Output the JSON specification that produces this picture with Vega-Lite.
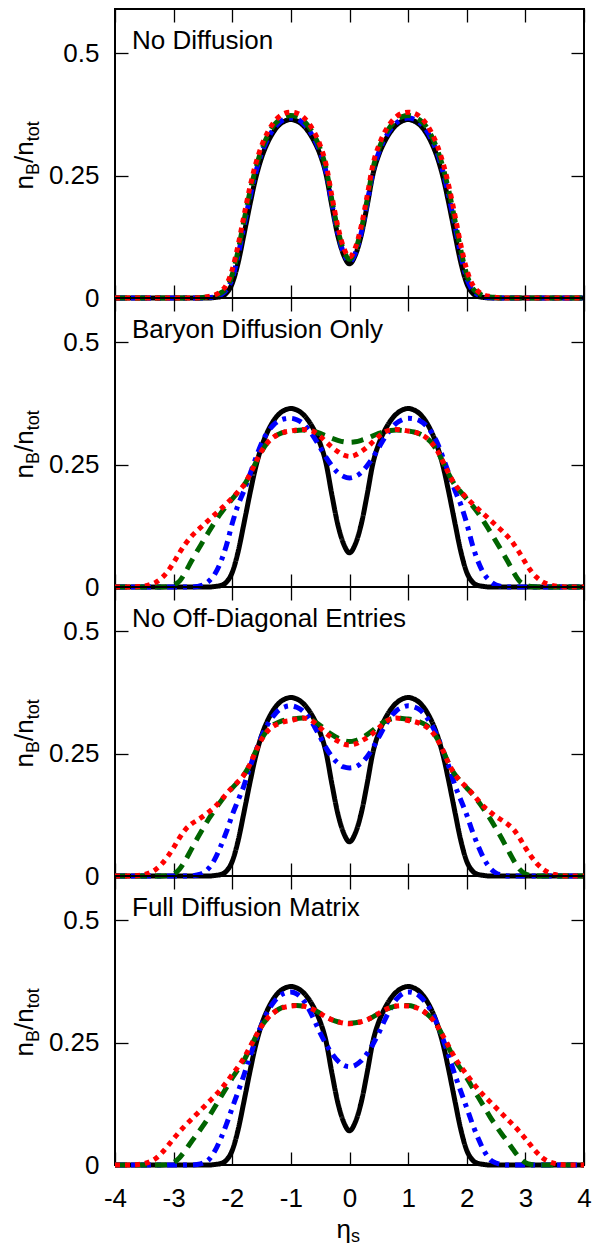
{
"$schema": "https://vega.github.io/schema/vega-lite/v6.json",
"autosize": {"type": "pad"},
"padding": {"left": 10, "top": 7, "right": 5, "bottom": 5},
"spacing": 0,
"bounds": "flush",
"datasets": {
"p1": [
{"x":-4,"k":0,"b":0,"g":0,"r":0},
{"x":-2.6,"k":0,"b":0,"g":0,"r":0},
{"x":-2.5,"k":0,"b":0,"g":0.001,"r":0.001},
{"x":-2.4,"k":0,"b":0.001,"g":0.002,"r":0.003},
{"x":-2.3,"k":0.001,"b":0.002,"g":0.004,"r":0.006},
{"x":-2.2,"k":0.003,"b":0.006,"g":0.01,"r":0.013},
{"x":-2.1,"k":0.01,"b":0.016,"g":0.02,"r":0.027},
{"x":-2,"k":0.03,"b":0.04,"g":0.048,"r":0.058},
{"x":-1.9,"k":0.072,"b":0.087,"g":0.097,"r":0.108},
{"x":-1.8,"k":0.13,"b":0.147,"g":0.158,"r":0.168},
{"x":-1.7,"k":0.19,"b":0.205,"g":0.216,"r":0.226},
{"x":-1.6,"k":0.245,"b":0.256,"g":0.265,"r":0.274},
{"x":-1.5,"k":0.287,"b":0.296,"g":0.303,"r":0.311},
{"x":-1.4,"k":0.317,"b":0.324,"g":0.331,"r":0.338},
{"x":-1.3,"k":0.339,"b":0.345,"g":0.352,"r":0.358},
{"x":-1.2,"k":0.354,"b":0.358,"g":0.364,"r":0.371},
{"x":-1.1,"k":0.362,"b":0.366,"g":0.371,"r":0.378},
{"x":-1,"k":0.365,"b":0.368,"g":0.373,"r":0.38},
{"x":-0.9,"k":0.362,"b":0.366,"g":0.371,"r":0.378},
{"x":-0.8,"k":0.354,"b":0.358,"g":0.364,"r":0.371},
{"x":-0.7,"k":0.34,"b":0.345,"g":0.351,"r":0.358},
{"x":-0.6,"k":0.32,"b":0.325,"g":0.332,"r":0.339},
{"x":-0.5,"k":0.293,"b":0.298,"g":0.305,"r":0.312},
{"x":-0.4,"k":0.253,"b":0.258,"g":0.265,"r":0.273},
{"x":-0.3,"k":0.188,"b":0.193,"g":0.2,"r":0.208},
{"x":-0.2,"k":0.128,"b":0.133,"g":0.14,"r":0.147},
{"x":-0.1,"k":0.088,"b":0.092,"g":0.098,"r":0.103},
{"x":0,"k":0.07,"b":0.074,"g":0.079,"r":0.084},
{"x":0.1,"k":0.088,"b":0.092,"g":0.098,"r":0.103},
{"x":0.2,"k":0.128,"b":0.133,"g":0.14,"r":0.147},
{"x":0.3,"k":0.188,"b":0.193,"g":0.2,"r":0.208},
{"x":0.4,"k":0.253,"b":0.258,"g":0.265,"r":0.273},
{"x":0.5,"k":0.293,"b":0.298,"g":0.305,"r":0.312},
{"x":0.6,"k":0.32,"b":0.325,"g":0.332,"r":0.339},
{"x":0.7,"k":0.34,"b":0.345,"g":0.351,"r":0.358},
{"x":0.8,"k":0.354,"b":0.358,"g":0.364,"r":0.371},
{"x":0.9,"k":0.362,"b":0.366,"g":0.371,"r":0.378},
{"x":1,"k":0.365,"b":0.368,"g":0.373,"r":0.38},
{"x":1.1,"k":0.362,"b":0.366,"g":0.371,"r":0.378},
{"x":1.2,"k":0.354,"b":0.358,"g":0.364,"r":0.371},
{"x":1.3,"k":0.339,"b":0.345,"g":0.352,"r":0.358},
{"x":1.4,"k":0.317,"b":0.324,"g":0.331,"r":0.338},
{"x":1.5,"k":0.287,"b":0.296,"g":0.303,"r":0.311},
{"x":1.6,"k":0.245,"b":0.256,"g":0.265,"r":0.274},
{"x":1.7,"k":0.19,"b":0.205,"g":0.216,"r":0.226},
{"x":1.8,"k":0.13,"b":0.147,"g":0.158,"r":0.168},
{"x":1.9,"k":0.072,"b":0.087,"g":0.097,"r":0.108},
{"x":2,"k":0.03,"b":0.04,"g":0.048,"r":0.058},
{"x":2.1,"k":0.01,"b":0.016,"g":0.02,"r":0.027},
{"x":2.2,"k":0.003,"b":0.006,"g":0.01,"r":0.013},
{"x":2.3,"k":0.001,"b":0.002,"g":0.004,"r":0.006},
{"x":2.4,"k":0,"b":0.001,"g":0.002,"r":0.003},
{"x":2.5,"k":0,"b":0,"g":0.001,"r":0.001},
{"x":2.6,"k":0,"b":0,"g":0,"r":0},
{"x":4,"k":0,"b":0,"g":0,"r":0}
],
"p2": [
{"x":-4,"k":0,"b":0,"g":0,"r":0},
{"x":-3.7,"k":0,"b":0,"g":0,"r":0},
{"x":-3.6,"k":0,"b":0,"g":0,"r":0.001},
{"x":-3.5,"k":0,"b":0,"g":0,"r":0.002},
{"x":-3.4,"k":0,"b":0,"g":0,"r":0.005},
{"x":-3.3,"k":0,"b":0,"g":0,"r":0.01},
{"x":-3.2,"k":0,"b":0,"g":0,"r":0.019},
{"x":-3.1,"k":0,"b":0,"g":0.001,"r":0.032},
{"x":-3,"k":0,"b":0,"g":0.004,"r":0.05},
{"x":-2.9,"k":0,"b":0,"g":0.012,"r":0.07},
{"x":-2.8,"k":0,"b":0,"g":0.03,"r":0.088},
{"x":-2.7,"k":0,"b":0,"g":0.052,"r":0.103},
{"x":-2.6,"k":0,"b":0.001,"g":0.073,"r":0.115},
{"x":-2.5,"k":0,"b":0.004,"g":0.093,"r":0.126},
{"x":-2.4,"k":0,"b":0.012,"g":0.113,"r":0.137},
{"x":-2.3,"k":0.001,"b":0.026,"g":0.132,"r":0.148},
{"x":-2.2,"k":0.003,"b":0.05,"g":0.15,"r":0.159},
{"x":-2.1,"k":0.01,"b":0.085,"g":0.166,"r":0.17},
{"x":-2,"k":0.03,"b":0.13,"g":0.18,"r":0.182},
{"x":-1.9,"k":0.072,"b":0.168,"g":0.194,"r":0.195},
{"x":-1.8,"k":0.13,"b":0.197,"g":0.208,"r":0.209},
{"x":-1.7,"k":0.19,"b":0.23,"g":0.229,"r":0.23},
{"x":-1.6,"k":0.245,"b":0.263,"g":0.254,"r":0.255},
{"x":-1.5,"k":0.287,"b":0.294,"g":0.277,"r":0.278},
{"x":-1.4,"k":0.317,"b":0.316,"g":0.295,"r":0.295},
{"x":-1.3,"k":0.339,"b":0.331,"g":0.306,"r":0.306},
{"x":-1.2,"k":0.354,"b":0.34,"g":0.313,"r":0.313},
{"x":-1.1,"k":0.362,"b":0.344,"g":0.317,"r":0.317},
{"x":-1,"k":0.365,"b":0.345,"g":0.319,"r":0.319},
{"x":-0.9,"k":0.362,"b":0.342,"g":0.32,"r":0.321},
{"x":-0.8,"k":0.354,"b":0.335,"g":0.321,"r":0.322},
{"x":-0.7,"k":0.34,"b":0.322,"g":0.32,"r":0.321},
{"x":-0.6,"k":0.32,"b":0.305,"g":0.318,"r":0.317},
{"x":-0.5,"k":0.293,"b":0.285,"g":0.314,"r":0.308},
{"x":-0.4,"k":0.253,"b":0.265,"g":0.309,"r":0.297},
{"x":-0.3,"k":0.188,"b":0.248,"g":0.304,"r":0.286},
{"x":-0.2,"k":0.128,"b":0.234,"g":0.3,"r":0.277},
{"x":-0.1,"k":0.088,"b":0.226,"g":0.297,"r":0.27},
{"x":0,"k":0.07,"b":0.223,"g":0.296,"r":0.267},
{"x":0.1,"k":0.088,"b":0.226,"g":0.297,"r":0.27},
{"x":0.2,"k":0.128,"b":0.234,"g":0.3,"r":0.277},
{"x":0.3,"k":0.188,"b":0.248,"g":0.304,"r":0.286},
{"x":0.4,"k":0.253,"b":0.265,"g":0.309,"r":0.297},
{"x":0.5,"k":0.293,"b":0.285,"g":0.314,"r":0.308},
{"x":0.6,"k":0.32,"b":0.305,"g":0.318,"r":0.317},
{"x":0.7,"k":0.34,"b":0.322,"g":0.32,"r":0.321},
{"x":0.8,"k":0.354,"b":0.335,"g":0.321,"r":0.322},
{"x":0.9,"k":0.362,"b":0.342,"g":0.32,"r":0.321},
{"x":1,"k":0.365,"b":0.345,"g":0.319,"r":0.319},
{"x":1.1,"k":0.362,"b":0.344,"g":0.317,"r":0.317},
{"x":1.2,"k":0.354,"b":0.34,"g":0.313,"r":0.313},
{"x":1.3,"k":0.339,"b":0.331,"g":0.306,"r":0.306},
{"x":1.4,"k":0.317,"b":0.316,"g":0.295,"r":0.295},
{"x":1.5,"k":0.287,"b":0.294,"g":0.277,"r":0.278},
{"x":1.6,"k":0.245,"b":0.263,"g":0.254,"r":0.255},
{"x":1.7,"k":0.19,"b":0.23,"g":0.229,"r":0.23},
{"x":1.8,"k":0.13,"b":0.197,"g":0.208,"r":0.209},
{"x":1.9,"k":0.072,"b":0.168,"g":0.194,"r":0.195},
{"x":2,"k":0.03,"b":0.13,"g":0.18,"r":0.182},
{"x":2.1,"k":0.01,"b":0.085,"g":0.166,"r":0.17},
{"x":2.2,"k":0.003,"b":0.05,"g":0.15,"r":0.159},
{"x":2.3,"k":0.001,"b":0.026,"g":0.132,"r":0.148},
{"x":2.4,"k":0,"b":0.012,"g":0.113,"r":0.137},
{"x":2.5,"k":0,"b":0.004,"g":0.093,"r":0.126},
{"x":2.6,"k":0,"b":0.001,"g":0.073,"r":0.115},
{"x":2.7,"k":0,"b":0,"g":0.052,"r":0.103},
{"x":2.8,"k":0,"b":0,"g":0.03,"r":0.088},
{"x":2.9,"k":0,"b":0,"g":0.012,"r":0.07},
{"x":3,"k":0,"b":0,"g":0.004,"r":0.05},
{"x":3.1,"k":0,"b":0,"g":0.001,"r":0.032},
{"x":3.2,"k":0,"b":0,"g":0,"r":0.019},
{"x":3.3,"k":0,"b":0,"g":0,"r":0.01},
{"x":3.4,"k":0,"b":0,"g":0,"r":0.005},
{"x":3.5,"k":0,"b":0,"g":0,"r":0.002},
{"x":3.6,"k":0,"b":0,"g":0,"r":0.001},
{"x":3.7,"k":0,"b":0,"g":0,"r":0},
{"x":4,"k":0,"b":0,"g":0,"r":0}
],
"p3": [
{"x":-4,"k":0,"b":0,"g":0,"r":0},
{"x":-3.7,"k":0,"b":0,"g":0,"r":0},
{"x":-3.6,"k":0,"b":0,"g":0,"r":0.001},
{"x":-3.5,"k":0,"b":0,"g":0,"r":0.003},
{"x":-3.4,"k":0,"b":0,"g":0,"r":0.007},
{"x":-3.3,"k":0,"b":0,"g":0,"r":0.014},
{"x":-3.2,"k":0,"b":0,"g":0,"r":0.025},
{"x":-3.1,"k":0,"b":0,"g":0.001,"r":0.04},
{"x":-3,"k":0,"b":0,"g":0.004,"r":0.058},
{"x":-2.9,"k":0,"b":0,"g":0.014,"r":0.078},
{"x":-2.8,"k":0,"b":0,"g":0.032,"r":0.095},
{"x":-2.7,"k":0,"b":0,"g":0.054,"r":0.106},
{"x":-2.6,"k":0,"b":0.002,"g":0.076,"r":0.114},
{"x":-2.5,"k":0,"b":0.006,"g":0.097,"r":0.122},
{"x":-2.4,"k":0,"b":0.016,"g":0.117,"r":0.131},
{"x":-2.3,"k":0.001,"b":0.034,"g":0.135,"r":0.141},
{"x":-2.2,"k":0.003,"b":0.06,"g":0.152,"r":0.154},
{"x":-2.1,"k":0.01,"b":0.09,"g":0.167,"r":0.168},
{"x":-2,"k":0.03,"b":0.125,"g":0.18,"r":0.181},
{"x":-1.9,"k":0.072,"b":0.155,"g":0.193,"r":0.193},
{"x":-1.8,"k":0.13,"b":0.185,"g":0.207,"r":0.207},
{"x":-1.7,"k":0.19,"b":0.222,"g":0.228,"r":0.228},
{"x":-1.6,"k":0.245,"b":0.255,"g":0.255,"r":0.255},
{"x":-1.5,"k":0.287,"b":0.285,"g":0.28,"r":0.279},
{"x":-1.4,"k":0.317,"b":0.309,"g":0.298,"r":0.296},
{"x":-1.3,"k":0.339,"b":0.327,"g":0.309,"r":0.306},
{"x":-1.2,"k":0.354,"b":0.34,"g":0.315,"r":0.312},
{"x":-1.1,"k":0.362,"b":0.346,"g":0.319,"r":0.316},
{"x":-1,"k":0.365,"b":0.348,"g":0.321,"r":0.318},
{"x":-0.9,"k":0.362,"b":0.345,"g":0.322,"r":0.321},
{"x":-0.8,"k":0.354,"b":0.338,"g":0.323,"r":0.323},
{"x":-0.7,"k":0.34,"b":0.325,"g":0.321,"r":0.321},
{"x":-0.6,"k":0.32,"b":0.306,"g":0.316,"r":0.314},
{"x":-0.5,"k":0.293,"b":0.284,"g":0.308,"r":0.303},
{"x":-0.4,"k":0.253,"b":0.262,"g":0.298,"r":0.292},
{"x":-0.3,"k":0.188,"b":0.244,"g":0.289,"r":0.283},
{"x":-0.2,"k":0.128,"b":0.231,"g":0.282,"r":0.276},
{"x":-0.1,"k":0.088,"b":0.223,"g":0.277,"r":0.27},
{"x":0,"k":0.07,"b":0.221,"g":0.275,"r":0.268},
{"x":0.1,"k":0.088,"b":0.223,"g":0.277,"r":0.27},
{"x":0.2,"k":0.128,"b":0.231,"g":0.282,"r":0.276},
{"x":0.3,"k":0.188,"b":0.244,"g":0.289,"r":0.283},
{"x":0.4,"k":0.253,"b":0.262,"g":0.298,"r":0.292},
{"x":0.5,"k":0.293,"b":0.284,"g":0.308,"r":0.303},
{"x":0.6,"k":0.32,"b":0.306,"g":0.316,"r":0.314},
{"x":0.7,"k":0.34,"b":0.325,"g":0.321,"r":0.321},
{"x":0.8,"k":0.354,"b":0.338,"g":0.323,"r":0.323},
{"x":0.9,"k":0.362,"b":0.345,"g":0.322,"r":0.321},
{"x":1,"k":0.365,"b":0.348,"g":0.321,"r":0.318},
{"x":1.1,"k":0.362,"b":0.346,"g":0.319,"r":0.316},
{"x":1.2,"k":0.354,"b":0.34,"g":0.315,"r":0.312},
{"x":1.3,"k":0.339,"b":0.327,"g":0.309,"r":0.306},
{"x":1.4,"k":0.317,"b":0.309,"g":0.298,"r":0.296},
{"x":1.5,"k":0.287,"b":0.285,"g":0.28,"r":0.279},
{"x":1.6,"k":0.245,"b":0.255,"g":0.255,"r":0.255},
{"x":1.7,"k":0.19,"b":0.222,"g":0.228,"r":0.228},
{"x":1.8,"k":0.13,"b":0.185,"g":0.207,"r":0.207},
{"x":1.9,"k":0.072,"b":0.155,"g":0.193,"r":0.193},
{"x":2,"k":0.03,"b":0.125,"g":0.18,"r":0.181},
{"x":2.1,"k":0.01,"b":0.09,"g":0.167,"r":0.168},
{"x":2.2,"k":0.003,"b":0.06,"g":0.152,"r":0.154},
{"x":2.3,"k":0.001,"b":0.034,"g":0.135,"r":0.141},
{"x":2.4,"k":0,"b":0.016,"g":0.117,"r":0.131},
{"x":2.5,"k":0,"b":0.006,"g":0.097,"r":0.122},
{"x":2.6,"k":0,"b":0.002,"g":0.076,"r":0.114},
{"x":2.7,"k":0,"b":0,"g":0.054,"r":0.106},
{"x":2.8,"k":0,"b":0,"g":0.032,"r":0.095},
{"x":2.9,"k":0,"b":0,"g":0.014,"r":0.078},
{"x":3,"k":0,"b":0,"g":0.004,"r":0.058},
{"x":3.1,"k":0,"b":0,"g":0.001,"r":0.04},
{"x":3.2,"k":0,"b":0,"g":0,"r":0.025},
{"x":3.3,"k":0,"b":0,"g":0,"r":0.014},
{"x":3.4,"k":0,"b":0,"g":0,"r":0.007},
{"x":3.5,"k":0,"b":0,"g":0,"r":0.003},
{"x":3.6,"k":0,"b":0,"g":0,"r":0.001},
{"x":3.7,"k":0,"b":0,"g":0,"r":0},
{"x":4,"k":0,"b":0,"g":0,"r":0}
],
"p4": [
{"x":-4,"k":0,"b":0,"g":0,"r":0},
{"x":-3.7,"k":0,"b":0,"g":0,"r":0},
{"x":-3.6,"k":0,"b":0,"g":0,"r":0.001},
{"x":-3.5,"k":0,"b":0,"g":0,"r":0.003},
{"x":-3.4,"k":0,"b":0,"g":0,"r":0.007},
{"x":-3.3,"k":0,"b":0,"g":0,"r":0.014},
{"x":-3.2,"k":0,"b":0,"g":0,"r":0.025},
{"x":-3.1,"k":0,"b":0,"g":0.001,"r":0.039},
{"x":-3,"k":0,"b":0,"g":0.005,"r":0.054},
{"x":-2.9,"k":0,"b":0,"g":0.015,"r":0.068},
{"x":-2.8,"k":0,"b":0,"g":0.03,"r":0.081},
{"x":-2.7,"k":0,"b":0,"g":0.047,"r":0.093},
{"x":-2.6,"k":0,"b":0.001,"g":0.063,"r":0.105},
{"x":-2.5,"k":0,"b":0.004,"g":0.08,"r":0.117},
{"x":-2.4,"k":0,"b":0.011,"g":0.098,"r":0.129},
{"x":-2.3,"k":0.001,"b":0.028,"g":0.118,"r":0.141},
{"x":-2.2,"k":0.003,"b":0.053,"g":0.138,"r":0.154},
{"x":-2.1,"k":0.01,"b":0.083,"g":0.158,"r":0.169},
{"x":-2,"k":0.03,"b":0.117,"g":0.178,"r":0.185},
{"x":-1.9,"k":0.072,"b":0.15,"g":0.196,"r":0.201},
{"x":-1.8,"k":0.13,"b":0.184,"g":0.214,"r":0.219},
{"x":-1.7,"k":0.19,"b":0.221,"g":0.238,"r":0.241},
{"x":-1.6,"k":0.245,"b":0.256,"g":0.262,"r":0.263},
{"x":-1.5,"k":0.287,"b":0.287,"g":0.284,"r":0.284},
{"x":-1.4,"k":0.317,"b":0.313,"g":0.3,"r":0.3},
{"x":-1.3,"k":0.339,"b":0.332,"g":0.311,"r":0.311},
{"x":-1.2,"k":0.354,"b":0.345,"g":0.319,"r":0.319},
{"x":-1.1,"k":0.362,"b":0.352,"g":0.324,"r":0.323},
{"x":-1,"k":0.365,"b":0.354,"g":0.326,"r":0.325},
{"x":-0.9,"k":0.362,"b":0.35,"g":0.326,"r":0.326},
{"x":-0.8,"k":0.354,"b":0.339,"g":0.325,"r":0.325},
{"x":-0.7,"k":0.34,"b":0.32,"g":0.322,"r":0.322},
{"x":-0.6,"k":0.32,"b":0.296,"g":0.317,"r":0.317},
{"x":-0.5,"k":0.293,"b":0.27,"g":0.31,"r":0.31},
{"x":-0.4,"k":0.253,"b":0.247,"g":0.303,"r":0.303},
{"x":-0.3,"k":0.188,"b":0.228,"g":0.297,"r":0.297},
{"x":-0.2,"k":0.128,"b":0.213,"g":0.293,"r":0.293},
{"x":-0.1,"k":0.088,"b":0.204,"g":0.291,"r":0.29},
{"x":0,"k":0.07,"b":0.201,"g":0.29,"r":0.289},
{"x":0.1,"k":0.088,"b":0.204,"g":0.291,"r":0.29},
{"x":0.2,"k":0.128,"b":0.213,"g":0.293,"r":0.293},
{"x":0.3,"k":0.188,"b":0.228,"g":0.297,"r":0.297},
{"x":0.4,"k":0.253,"b":0.247,"g":0.303,"r":0.303},
{"x":0.5,"k":0.293,"b":0.27,"g":0.31,"r":0.31},
{"x":0.6,"k":0.32,"b":0.296,"g":0.317,"r":0.317},
{"x":0.7,"k":0.34,"b":0.32,"g":0.322,"r":0.322},
{"x":0.8,"k":0.354,"b":0.339,"g":0.325,"r":0.325},
{"x":0.9,"k":0.362,"b":0.35,"g":0.326,"r":0.326},
{"x":1,"k":0.365,"b":0.354,"g":0.326,"r":0.325},
{"x":1.1,"k":0.362,"b":0.352,"g":0.324,"r":0.323},
{"x":1.2,"k":0.354,"b":0.345,"g":0.319,"r":0.319},
{"x":1.3,"k":0.339,"b":0.332,"g":0.311,"r":0.311},
{"x":1.4,"k":0.317,"b":0.313,"g":0.3,"r":0.3},
{"x":1.5,"k":0.287,"b":0.287,"g":0.284,"r":0.284},
{"x":1.6,"k":0.245,"b":0.256,"g":0.262,"r":0.263},
{"x":1.7,"k":0.19,"b":0.221,"g":0.238,"r":0.241},
{"x":1.8,"k":0.13,"b":0.184,"g":0.214,"r":0.219},
{"x":1.9,"k":0.072,"b":0.15,"g":0.196,"r":0.201},
{"x":2,"k":0.03,"b":0.117,"g":0.178,"r":0.185},
{"x":2.1,"k":0.01,"b":0.083,"g":0.158,"r":0.169},
{"x":2.2,"k":0.003,"b":0.053,"g":0.138,"r":0.154},
{"x":2.3,"k":0.001,"b":0.028,"g":0.118,"r":0.141},
{"x":2.4,"k":0,"b":0.011,"g":0.098,"r":0.129},
{"x":2.5,"k":0,"b":0.004,"g":0.08,"r":0.117},
{"x":2.6,"k":0,"b":0.001,"g":0.063,"r":0.105},
{"x":2.7,"k":0,"b":0,"g":0.047,"r":0.093},
{"x":2.8,"k":0,"b":0,"g":0.03,"r":0.081},
{"x":2.9,"k":0,"b":0,"g":0.015,"r":0.068},
{"x":3,"k":0,"b":0,"g":0.005,"r":0.054},
{"x":3.1,"k":0,"b":0,"g":0.001,"r":0.039},
{"x":3.2,"k":0,"b":0,"g":0,"r":0.025},
{"x":3.3,"k":0,"b":0,"g":0,"r":0.014},
{"x":3.4,"k":0,"b":0,"g":0,"r":0.007},
{"x":3.5,"k":0,"b":0,"g":0,"r":0.003},
{"x":3.6,"k":0,"b":0,"g":0,"r":0.001},
{"x":3.7,"k":0,"b":0,"g":0,"r":0},
{"x":4,"k":0,"b":0,"g":0,"r":0}
]
},
"vconcat": [
{
"width": 469, "height": 289,
"data": {"name": "p1"},
"transform": [{"fold": ["k","b","g","r"], "as": ["s","v"]}],
"title": {"text": "No Diffusion"},
"layer": [
{"mark": {"type": "line", "interpolate": "monotone", "strokeWidth": 5},
 "encoding": {
  "x": {"field": "x", "type": "quantitative", "scale": {"domain": [-4,4], "nice": false, "zero": false}, "axis": {"orient": "bottom", "values": [-4,-3,-2,-1,0,1,2,3,4], "labels": false, "title": null}},
  "y": {"field": "v", "type": "quantitative", "scale": {"domain": [0,0.591], "nice": false, "zero": false}, "axis": {"orient": "left", "values": [0,0.25,0.5], "labelPadding": 29, "labelAlign": "right", "labelBaseline": "middle", "labelExpr": "'' + datum.value", "title": "n", "titleFontSize": 26, "titleX": -82.5, "titleY": 180, "titleAngle": 270, "titleAlign": "left", "titleBaseline": "alphabetic"}},
  "color": {"field": "s", "type": "nominal", "scale": {"domain": ["k","b","g","r"], "range": ["#000000","#0000ff","#006400","#ff0000"]}, "legend": null},
  "strokeDash": {"field": "s", "type": "nominal", "scale": {"domain": ["k","b","g","r"], "range": [[1,0],[10,6,4,6],[12,8],[5,5]]}, "legend": null}
 }},
{"mark": {"type": "point", "opacity": 0},
 "encoding": {
  "x": {"field": "x", "type": "quantitative", "axis": {"orient": "top", "values": [-4,-3,-2,-1,0,1,2,3,4], "labels": false, "title": null}},
  "y": {"field": "v", "type": "quantitative", "axis": {"orient": "right", "values": [0,0.25,0.5], "labels": false, "title": null}}
 }},
{"mark": {"type": "point", "opacity": 0},
 "encoding": {
  "x": {"field": "x", "type": "quantitative", "axis": null},
  "y": {"field": "v", "type": "quantitative", "axis": {"orient": "left", "labels": false, "ticks": false, "title": "B", "titleFontSize": 18, "titleX": -76.5, "titleY": 165.5, "titleAngle": 270, "titleAlign": "left", "titleBaseline": "alphabetic"}}
 }},
{"mark": {"type": "point", "opacity": 0},
 "encoding": {
  "x": {"field": "x", "type": "quantitative", "axis": null},
  "y": {"field": "v", "type": "quantitative", "axis": {"orient": "left", "labels": false, "ticks": false, "title": "/n", "titleFontSize": 26, "titleX": -82.5, "titleY": 153.5, "titleAngle": 270, "titleAlign": "left", "titleBaseline": "alphabetic"}}
 }},
{"mark": {"type": "point", "opacity": 0},
 "encoding": {
  "x": {"field": "x", "type": "quantitative", "axis": null},
  "y": {"field": "v", "type": "quantitative", "axis": {"orient": "left", "labels": false, "ticks": false, "title": "tot", "titleFontSize": 18, "titleX": -76.5, "titleY": 131.8, "titleAngle": 270, "titleAlign": "left", "titleBaseline": "alphabetic"}}
 }}
],
"resolve": {"axis": {"x": "independent", "y": "independent"}}
},
{
"width": 469, "height": 289,
"data": {"name": "p2"},
"transform": [{"fold": ["k","b","g","r"], "as": ["s","v"]}],
"title": {"text": "Baryon Diffusion Only"},
"layer": [
{"mark": {"type": "line", "interpolate": "monotone", "strokeWidth": 5},
 "encoding": {
  "x": {"field": "x", "type": "quantitative", "scale": {"domain": [-4,4], "nice": false, "zero": false}, "axis": {"orient": "bottom", "values": [-4,-3,-2,-1,0,1,2,3,4], "labels": false, "title": null}},
  "y": {"field": "v", "type": "quantitative", "scale": {"domain": [0,0.591], "nice": false, "zero": false}, "axis": {"orient": "left", "values": [0,0.25,0.5], "labelPadding": 29, "labelAlign": "right", "labelBaseline": "middle", "labelExpr": "'' + datum.value", "title": "n", "titleFontSize": 26, "titleX": -82.5, "titleY": 180, "titleAngle": 270, "titleAlign": "left", "titleBaseline": "alphabetic"}},
  "color": {"field": "s", "type": "nominal", "scale": {"domain": ["k","b","g","r"], "range": ["#000000","#0000ff","#006400","#ff0000"]}, "legend": null},
  "strokeDash": {"field": "s", "type": "nominal", "scale": {"domain": ["k","b","g","r"], "range": [[1,0],[10,6,4,6],[12,8],[5,5]]}, "legend": null}
 }},
{"mark": {"type": "point", "opacity": 0},
 "encoding": {
  "x": {"field": "x", "type": "quantitative", "axis": {"orient": "top", "values": [-4,-3,-2,-1,0,1,2,3,4], "labels": false, "title": null}},
  "y": {"field": "v", "type": "quantitative", "axis": {"orient": "right", "values": [0,0.25,0.5], "labels": false, "title": null}}
 }},
{"mark": {"type": "point", "opacity": 0},
 "encoding": {
  "x": {"field": "x", "type": "quantitative", "axis": null},
  "y": {"field": "v", "type": "quantitative", "axis": {"orient": "left", "labels": false, "ticks": false, "title": "B", "titleFontSize": 18, "titleX": -76.5, "titleY": 165.5, "titleAngle": 270, "titleAlign": "left", "titleBaseline": "alphabetic"}}
 }},
{"mark": {"type": "point", "opacity": 0},
 "encoding": {
  "x": {"field": "x", "type": "quantitative", "axis": null},
  "y": {"field": "v", "type": "quantitative", "axis": {"orient": "left", "labels": false, "ticks": false, "title": "/n", "titleFontSize": 26, "titleX": -82.5, "titleY": 153.5, "titleAngle": 270, "titleAlign": "left", "titleBaseline": "alphabetic"}}
 }},
{"mark": {"type": "point", "opacity": 0},
 "encoding": {
  "x": {"field": "x", "type": "quantitative", "axis": null},
  "y": {"field": "v", "type": "quantitative", "axis": {"orient": "left", "labels": false, "ticks": false, "title": "tot", "titleFontSize": 18, "titleX": -76.5, "titleY": 131.8, "titleAngle": 270, "titleAlign": "left", "titleBaseline": "alphabetic"}}
 }}
],
"resolve": {"axis": {"x": "independent", "y": "independent"}}
},
{
"width": 469, "height": 289,
"data": {"name": "p3"},
"transform": [{"fold": ["k","b","g","r"], "as": ["s","v"]}],
"title": {"text": "No Off-Diagonal Entries"},
"layer": [
{"mark": {"type": "line", "interpolate": "monotone", "strokeWidth": 5},
 "encoding": {
  "x": {"field": "x", "type": "quantitative", "scale": {"domain": [-4,4], "nice": false, "zero": false}, "axis": {"orient": "bottom", "values": [-4,-3,-2,-1,0,1,2,3,4], "labels": false, "title": null}},
  "y": {"field": "v", "type": "quantitative", "scale": {"domain": [0,0.591], "nice": false, "zero": false}, "axis": {"orient": "left", "values": [0,0.25,0.5], "labelPadding": 29, "labelAlign": "right", "labelBaseline": "middle", "labelExpr": "'' + datum.value", "title": "n", "titleFontSize": 26, "titleX": -82.5, "titleY": 180, "titleAngle": 270, "titleAlign": "left", "titleBaseline": "alphabetic"}},
  "color": {"field": "s", "type": "nominal", "scale": {"domain": ["k","b","g","r"], "range": ["#000000","#0000ff","#006400","#ff0000"]}, "legend": null},
  "strokeDash": {"field": "s", "type": "nominal", "scale": {"domain": ["k","b","g","r"], "range": [[1,0],[10,6,4,6],[12,8],[5,5]]}, "legend": null}
 }},
{"mark": {"type": "point", "opacity": 0},
 "encoding": {
  "x": {"field": "x", "type": "quantitative", "axis": {"orient": "top", "values": [-4,-3,-2,-1,0,1,2,3,4], "labels": false, "title": null}},
  "y": {"field": "v", "type": "quantitative", "axis": {"orient": "right", "values": [0,0.25,0.5], "labels": false, "title": null}}
 }},
{"mark": {"type": "point", "opacity": 0},
 "encoding": {
  "x": {"field": "x", "type": "quantitative", "axis": null},
  "y": {"field": "v", "type": "quantitative", "axis": {"orient": "left", "labels": false, "ticks": false, "title": "B", "titleFontSize": 18, "titleX": -76.5, "titleY": 165.5, "titleAngle": 270, "titleAlign": "left", "titleBaseline": "alphabetic"}}
 }},
{"mark": {"type": "point", "opacity": 0},
 "encoding": {
  "x": {"field": "x", "type": "quantitative", "axis": null},
  "y": {"field": "v", "type": "quantitative", "axis": {"orient": "left", "labels": false, "ticks": false, "title": "/n", "titleFontSize": 26, "titleX": -82.5, "titleY": 153.5, "titleAngle": 270, "titleAlign": "left", "titleBaseline": "alphabetic"}}
 }},
{"mark": {"type": "point", "opacity": 0},
 "encoding": {
  "x": {"field": "x", "type": "quantitative", "axis": null},
  "y": {"field": "v", "type": "quantitative", "axis": {"orient": "left", "labels": false, "ticks": false, "title": "tot", "titleFontSize": 18, "titleX": -76.5, "titleY": 131.8, "titleAngle": 270, "titleAlign": "left", "titleBaseline": "alphabetic"}}
 }}
],
"resolve": {"axis": {"x": "independent", "y": "independent"}}
},
{
"width": 469, "height": 289,
"data": {"name": "p4"},
"transform": [{"fold": ["k","b","g","r"], "as": ["s","v"]}],
"title": {"text": "Full Diffusion Matrix"},
"layer": [
{"mark": {"type": "line", "interpolate": "monotone", "strokeWidth": 5},
 "encoding": {
  "x": {"field": "x", "type": "quantitative", "scale": {"domain": [-4,4], "nice": false, "zero": false}, "axis": {"orient": "bottom", "values": [-4,-3,-2,-1,0,1,2,3,4], "labelPadding": 46, "labelBaseline": "middle", "labelExpr": "'' + datum.value", "title": "η", "titleFontSize": 26, "titleX": 221, "titleY": 72, "titleAlign": "left", "titleBaseline": "alphabetic"}},
  "y": {"field": "v", "type": "quantitative", "scale": {"domain": [0,0.591], "nice": false, "zero": false}, "axis": {"orient": "left", "values": [0,0.25,0.5], "labelPadding": 29, "labelAlign": "right", "labelBaseline": "middle", "labelExpr": "'' + datum.value", "title": "n", "titleFontSize": 26, "titleX": -82.5, "titleY": 180, "titleAngle": 270, "titleAlign": "left", "titleBaseline": "alphabetic"}},
  "color": {"field": "s", "type": "nominal", "scale": {"domain": ["k","b","g","r"], "range": ["#000000","#0000ff","#006400","#ff0000"]}, "legend": null},
  "strokeDash": {"field": "s", "type": "nominal", "scale": {"domain": ["k","b","g","r"], "range": [[1,0],[10,6,4,6],[12,8],[5,5]]}, "legend": null}
 }},
{"mark": {"type": "point", "opacity": 0},
 "encoding": {
  "x": {"field": "x", "type": "quantitative", "axis": {"orient": "top", "values": [-4,-3,-2,-1,0,1,2,3,4], "labels": false, "title": null}},
  "y": {"field": "v", "type": "quantitative", "axis": {"orient": "right", "values": [0,0.25,0.5], "labels": false, "title": null}}
 }},
{"mark": {"type": "point", "opacity": 0},
 "encoding": {
  "x": {"field": "x", "type": "quantitative", "axis": {"orient": "bottom", "labels": false, "ticks": false, "title": "s", "titleFontSize": 18, "titleX": 235.5, "titleY": 76, "titleAlign": "left", "titleBaseline": "alphabetic"}},
  "y": {"field": "v", "type": "quantitative", "axis": {"orient": "left", "labels": false, "ticks": false, "title": "B", "titleFontSize": 18, "titleX": -76.5, "titleY": 165.5, "titleAngle": 270, "titleAlign": "left", "titleBaseline": "alphabetic"}}
 }},
{"mark": {"type": "point", "opacity": 0},
 "encoding": {
  "x": {"field": "x", "type": "quantitative", "axis": null},
  "y": {"field": "v", "type": "quantitative", "axis": {"orient": "left", "labels": false, "ticks": false, "title": "/n", "titleFontSize": 26, "titleX": -82.5, "titleY": 153.5, "titleAngle": 270, "titleAlign": "left", "titleBaseline": "alphabetic"}}
 }},
{"mark": {"type": "point", "opacity": 0},
 "encoding": {
  "x": {"field": "x", "type": "quantitative", "axis": null},
  "y": {"field": "v", "type": "quantitative", "axis": {"orient": "left", "labels": false, "ticks": false, "title": "tot", "titleFontSize": 18, "titleX": -76.5, "titleY": 131.8, "titleAngle": 270, "titleAlign": "left", "titleBaseline": "alphabetic"}}
 }}
],
"resolve": {"axis": {"x": "independent", "y": "independent"}}
}
],
"config": {
"font": "Liberation Sans",
"background": "white",
"view": {"stroke": "black", "strokeWidth": 2},
"axis": {"grid": false, "domain": false, "tickColor": "black", "tickWidth": 1.3, "tickSize": -13, "labelFont": "Liberation Sans", "labelFontSize": 26, "labelColor": "black", "titleFont": "Liberation Sans", "titleColor": "black", "titleFontWeight": "normal", "labelFlush": false, "labelOverlap": false},
"title": {"font": "Liberation Sans", "fontSize": 26, "fontWeight": "normal", "color": "black", "anchor": "start", "frame": "group", "baseline": "alphabetic", "offset": -46, "dx": 17}
}
}
